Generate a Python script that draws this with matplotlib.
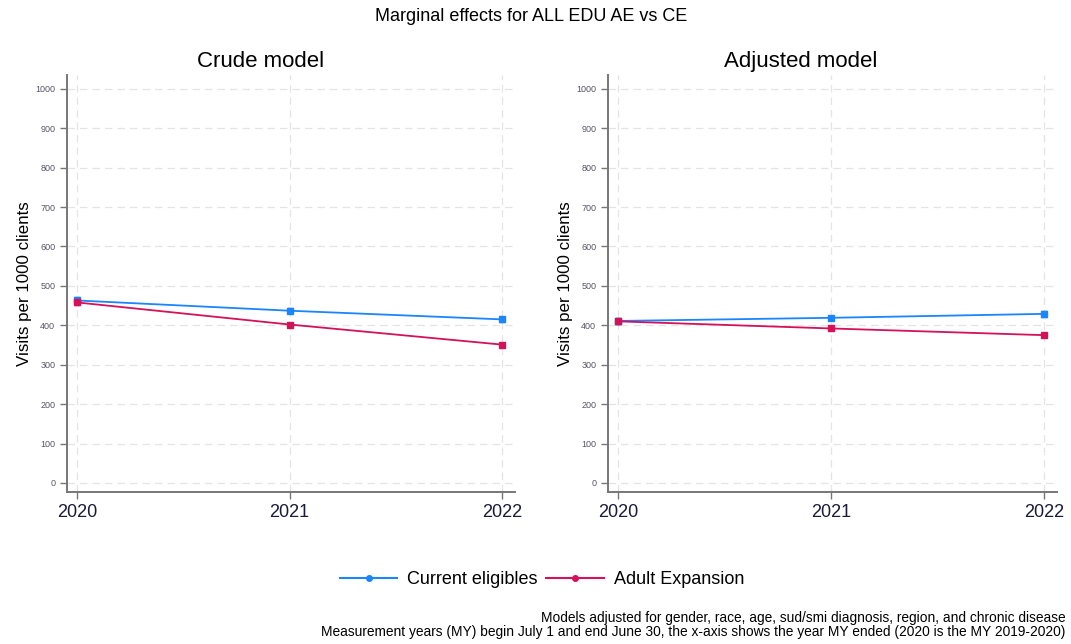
import matplotlib.pyplot as plt
from matplotlib.lines import Line2D

plt.rcParams['font.family'] = ['Liberation Sans', 'DejaVu Sans']

years = [2020, 2021, 2022]

# crude model
crude_ce = [463, 437, 415]
crude_ce_err = [8, 6, 7]
crude_ae = [458, 402, 351]
crude_ae_err = [7, 5, 5]

# adjusted model
adj_ce = [411, 419, 429]
adj_ce_err = [8, 5, 7]
adj_ae = [410, 392, 375]
adj_ae_err = [7, 5, 5]

ce_color = '#1a85ff'
ae_color = '#d41159'

fig = plt.figure(figsize=(10.71, 6.44), dpi=100)
ax1 = fig.add_axes([0.0626, 0.236, 0.418, 0.6475])
ax2 = fig.add_axes([0.5677, 0.236, 0.419, 0.6475])

panels = [
    (ax1, crude_ce, crude_ce_err, crude_ae, crude_ae_err),
    (ax2, adj_ce, adj_ce_err, adj_ae, adj_ae_err),
]

for ax, ce, ce_err, ae, ae_err in panels:
    ax.errorbar(years, ce, yerr=ce_err, color=ce_color, lw=1.3, marker='s', ms=5,
                capsize=2.5, elinewidth=1.2, zorder=3)
    ax.errorbar(years, ae, yerr=ae_err, color=ae_color, lw=1.3, marker='s', ms=5,
                capsize=2.5, elinewidth=1.2, zorder=3)
    ax.set_xlim(2019.953, 2022.06)
    ax.set_ylim(-23, 1035)
    ax.set_yticks(range(0, 1001, 100))
    ax.set_xticks(years)
    ax.tick_params(axis='y', labelsize=6.5, labelcolor='#555566', color='#777777',
                   length=5, width=1)
    ax.tick_params(axis='x', labelsize=13, labelcolor='#1a1a3a', color='#777777',
                   length=5, width=1)
    ax.grid(True, color='#e4e4e4', linestyle=(0, (6, 4)), lw=0.9)
    ax.set_axisbelow(True)
    for s in ['top', 'right']:
        ax.spines[s].set_visible(False)
    for s in ['left', 'bottom']:
        ax.spines[s].set_color('#777777')
        ax.spines[s].set_linewidth(1.4)
    ax.set_ylabel('Visits per 1000 clients', fontsize=12.2, labelpad=2)

fig.text(0.496, 0.975, 'Marginal effects for ALL EDU AE vs CE', ha='center',
         va='center', fontsize=13)
fig.text(0.243, 0.905, 'Crude model', ha='center', va='center', fontsize=16)
fig.text(0.748, 0.905, 'Adjusted model', ha='center', va='center', fontsize=16)

handles = [
    Line2D([], [], color=ce_color, lw=1.5, marker='o', ms=4),
    Line2D([], [], color=ae_color, lw=1.5, marker='o', ms=4),
]
fig.legend(handles, ['Current eligibles', 'Adult Expansion'], loc='center',
           bbox_to_anchor=(0.506, 0.1), ncol=2, frameon=False, fontsize=13,
           handlelength=3.2, handletextpad=0.55, columnspacing=0.45)

fig.text(0.995, 0.04, 'Models adjusted for gender, race, age, sud/smi diagnosis, region, and chronic disease',
         ha='right', va='center', fontsize=9.9)
fig.text(0.995, 0.018, 'Measurement years (MY) begin July 1 and end June 30, the x-axis shows the year MY ended (2020 is the MY 2019-2020)',
         ha='right', va='center', fontsize=9.9)

fig.savefig('out.png', dpi=100, facecolor='white')
